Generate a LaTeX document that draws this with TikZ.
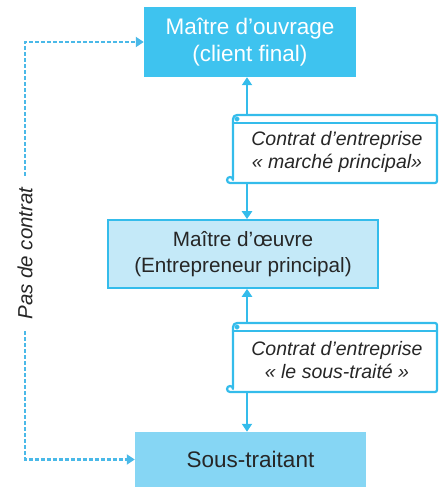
\documentclass[tikz,border=0pt]{standalone}
\usepackage{fontspec}
\setmainfont{Liberation Sans}
\usetikzlibrary{arrows.meta}
\definecolor{topfill}{HTML}{3EC3EF}
\definecolor{midfill}{HTML}{C4E9F8}
\definecolor{botfill}{HTML}{86D6F4}
\definecolor{lineblue}{HTML}{34BCEB}
\definecolor{dashblue}{HTML}{4AB9E8}
\definecolor{inkgray}{HTML}{262626}
\tikzset{
  box/.style={rectangle, align=center, inner sep=0pt},
  scrollline/.style={draw=lineblue, line width=2.2pt, line cap=round, line join=round},
  conn/.style={draw=lineblue, line width=2.4pt, -{Triangle[width=10pt,length=8pt]}},
  noagree/.style={draw=dashblue, line width=2.3pt, dash pattern=on 4pt off 2pt, -{Triangle[width=10pt,length=8pt]}},
  scrolltext/.style={align=center, text=inkgray, font=\fontsize{19.5}{22.5}\selectfont\itshape},
}
\begin{document}
\begin{tikzpicture}[x=1pt,y=1pt]
\useasboundingbox (0,0) rectangle (439,487);

% the three parties
\node[box, fill=topfill, minimum width=212pt, minimum height=70pt, text=white,
      font=\fontsize{22.5}{27}\selectfont] (mo) at (250,445) {Maître d’ouvrage\\(client final)};
\node[box, fill=midfill, draw=lineblue, line width=1.6pt, minimum width=270pt, minimum height=68pt,
      text=inkgray, font=\fontsize{20.7}{25.5}\selectfont] (moe) at (243,233) {Maître d’œuvre\\(Entrepreneur principal)};
\node[box, fill=botfill, minimum width=231pt, minimum height=55pt, text=inkgray,
      font=\fontsize{22.5}{27}\selectfont] (st) at (250.5,27.5) {Sous-traitant};

% scroll 1 : main contract
\coordinate (s1in) at (247,372);
\coordinate (s1out) at (247,304);
\draw[scrollline] (233,308) -- (233,368) arc[start angle=180, end angle=90, radius=4] -- (435,372)
  arc[start angle=90, end angle=0, radius=2] -- (437,306) arc[start angle=0, end angle=-90, radius=2] -- (230,304)
  arc[start angle=270, end angle=0, radius=3] ;
\draw[scrollline] (233,364) -- (437,364);
\draw[scrollline] (237,368) circle[radius=1.6];
\node[scrolltext] (c1) at (337,335) {Contrat d’entreprise\\« marché principal»};

% scroll 2 : subcontract
\coordinate (s2in) at (247,164);
\coordinate (s2out) at (247,95);
\draw[scrollline] (233,99) -- (233,160) arc[start angle=180, end angle=90, radius=4] -- (435,164)
  arc[start angle=90, end angle=0, radius=2] -- (437,97) arc[start angle=0, end angle=-90, radius=2] -- (230,95)
  arc[start angle=270, end angle=0, radius=3] ;
\draw[scrollline] (233,156) -- (437,156);
\draw[scrollline] (237,160) circle[radius=1.6];
\node[scrolltext] (c2) at (337,127) {Contrat d’entreprise\\« le sous-traité »};

% contract links
\draw[conn] (s1in) -- (mo.south -| s1in);
\draw[conn] (s1out) -- (moe.north -| s1out);
\draw[conn] (s2in) -- (moe.south -| s2in);
\draw[conn] (s2out) -- (st.north -| s2out);

% no contract between owner and subcontractor
\node[rotate=90, inner sep=11.5pt, text=inkgray, font=\fontsize{20.5}{24}\selectfont\itshape] (pas) at (25,233.5) {Pas de contrat};
\draw[noagree] (pas.east) |- (mo.west);
\draw[noagree] (pas.west) |- (st.west);
\end{tikzpicture}
\end{document}
